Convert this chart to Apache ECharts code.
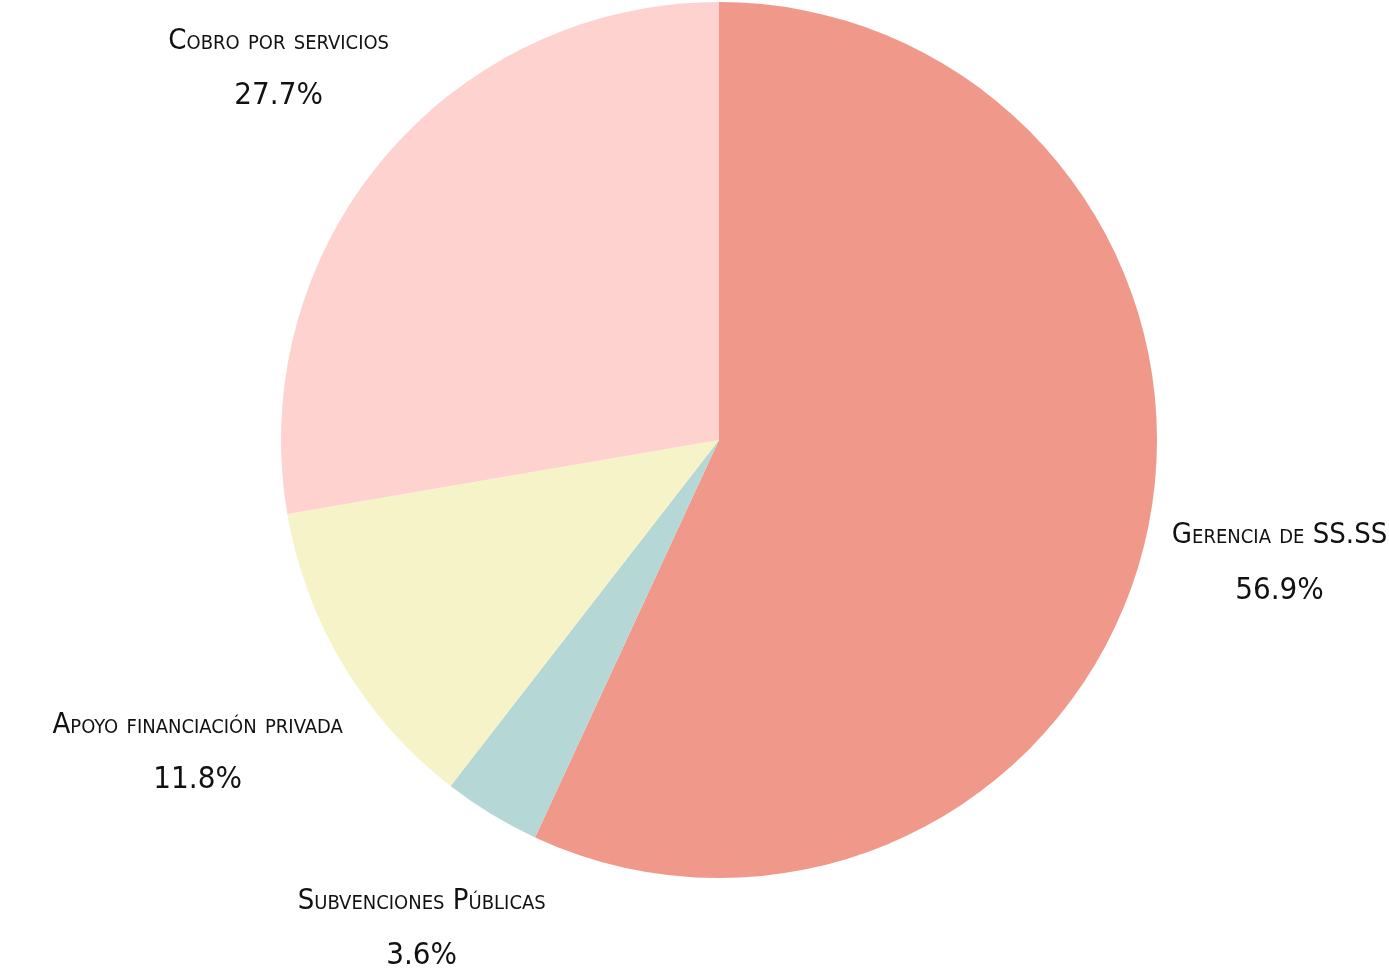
<!DOCTYPE html>
<html>
<head>
<meta charset="utf-8">
<script src="https://cdn.jsdelivr.net/npm/echarts@6/dist/echarts.min.js"></script>
<style>
html,body{margin:0;padding:0;background:#fff;}
#chart{width:1389px;height:970px;}
</style>
</head>
<body>
<div id="chart"></div>
<script>
const categories = ['Gerencia de SS.SS', 'Subvenciones Públicas', 'Apoyo financiación privada', 'Cobro por servicios'];
const values = [56.9, 3.6, 11.8, 27.7];
const colors = ['#F0998B', '#B5D7D5', '#F7F3C9', '#FED2CE'];

const W = 1389, H = 970;
const CX = 719, CY = 440, R = 438, LABEL_D = 572;

const total = values.reduce((a, b) => a + b, 0);
const midAngles = [];
let acc = 0;
values.forEach(v => { midAngles.push((acc + v / 2) / total * 2 * Math.PI); acc += v; });

function rectHitsCircle(x, y, w, h, r) {
  const nx = Math.max(x, Math.min(CX, x + w));
  const ny = Math.max(y, Math.min(CY, y + h));
  return Math.hypot(nx - CX, ny - CY) < r;
}

const chart = echarts.init(document.getElementById('chart'), null, { renderer: 'canvas' });
chart.setOption({
  animation: false,
  backgroundColor: '#ffffff',
  series: [{
    type: 'pie',
    center: [(CX / W * 100) + '%', (CY / H * 100) + '%'],
    radius: [0, R],
    startAngle: 90,
    clockwise: true,
    percentPrecision: 1,
    avoidLabelOverlap: false,
    itemStyle: { borderWidth: 0 },
    label: {
      show: true,
      position: 'outside',
      formatter: '{b}\n{p|{d}%}',
      color: '#111111',
      fontFamily: "'DejaVu Sans Condensed', 'Liberation Sans Narrow', sans-serif",
      fontStyle: 'small-caps',
      fontSize: 29,
      lineHeight: 55,
      align: 'center',
      rich: {
        p: {
          fontFamily: "'DejaVu Sans Condensed', 'Liberation Sans Narrow', sans-serif",
          fontSize: 31,
          lineHeight: 55,
          color: '#111111'
        }
      }
    },
    labelLine: { show: false },
    labelLayout: function (p) {
      const a = midAngles[p.dataIndex];
      const dx = Math.sin(a), dy = -Math.cos(a);
      const w = p.labelRect.width, h = p.labelRect.height;
      let d = LABEL_D;
      for (let i = 0; i < 200; i++) {
        const x = CX + dx * d - w / 2, y = CY + dy * d - h / 2;
        if (!rectHitsCircle(x, y, w, h, R + 18)) break;
        d += 2;
      }
      return { x: CX + dx * d, y: CY + dy * d, align: 'center', verticalAlign: 'middle' };
    },
    data: categories.map((c, i) => ({ name: c, value: values[i], itemStyle: { color: colors[i] } }))
  }]
});
</script>
</body>
</html>
